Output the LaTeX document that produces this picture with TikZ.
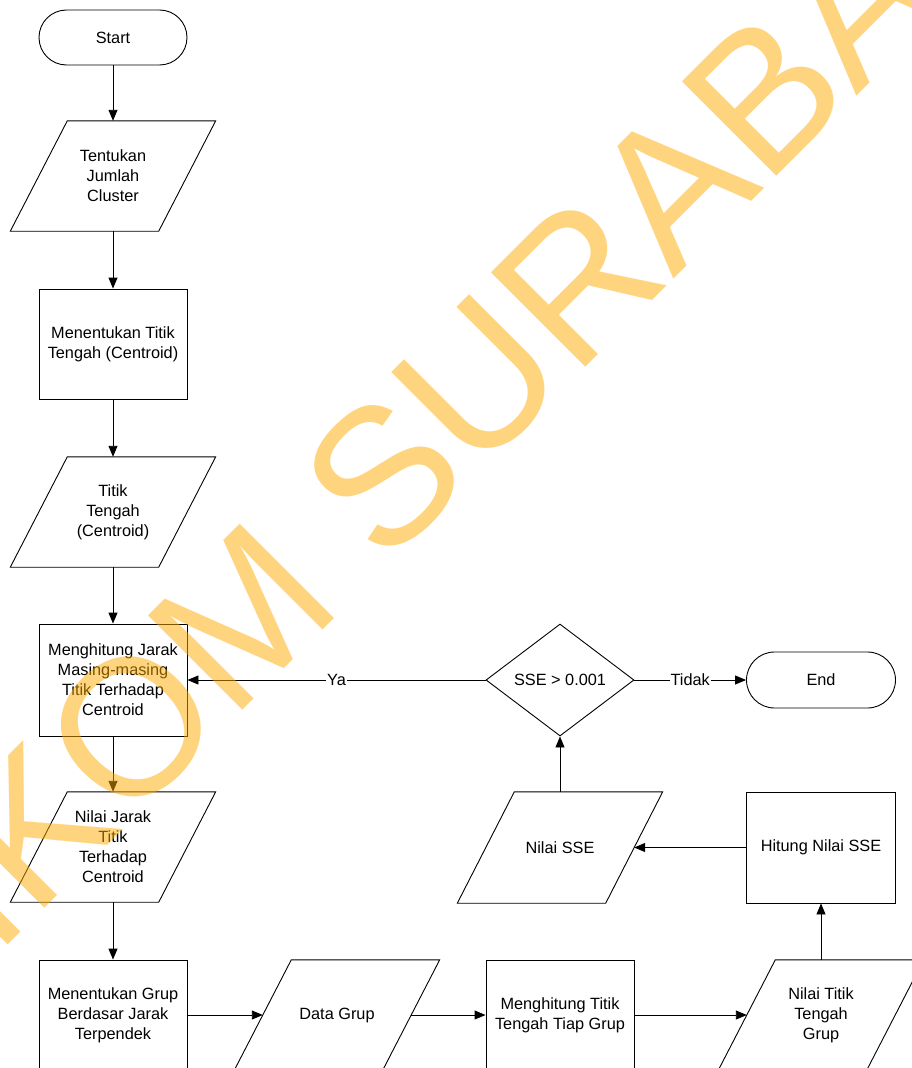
\documentclass[tikz,border=0pt]{standalone}
\usepackage{fontspec}
\setmainfont{Liberation Sans}
\usetikzlibrary{arrows.meta,shapes.geometric,calc}
\definecolor{wmc}{HTML}{FFAA00}
\begin{document}
\begin{tikzpicture}[x=1pt,y=-1pt,
  >={Triangle[length=11pt,width=9pt]},
  basefont/.style={font=\fontsize{16.3}{20}\selectfont, align=center},
  term/.style={basefont, draw, line width=0.9pt, rounded corners=27.5pt, minimum width=148pt, minimum height=55pt, inner sep=0pt},
  proc/.style={basefont, draw, line width=0.9pt, minimum width=148pt, minimum height=110pt, inner sep=0pt},
  io/.style={basefont, minimum width=148pt, minimum height=110pt, inner sep=0pt},
  dec/.style={basefont, draw, line width=0.9pt, diamond, minimum width=148pt, minimum height=112pt, inner sep=0pt},
  flow/.style={draw, line width=0.9pt, ->},
  lbl/.style={basefont, fill=white, inner sep=1pt},
  wm/.style={text=wmc, opacity=0.5, inner sep=0pt, anchor=base west, rotate=45, font=\fontsize{194}{194}\selectfont}
]
\useasboundingbox (0,0) rectangle (912,1068);
\clip (0,0) rectangle (912,1068);
\fill[white] (0,0) rectangle (912,1068);

% nodes
\node[term] (start) at (113,37.5) {Start};
\node[io] (p1) at (113,176) {Tentukan\\Jumlah\\Cluster};
\node[proc] (r1) at (113,344) {Menentukan Titik\\Tengah (Centroid)};
\node[io] (p2) at (113,512) {Titik\\Tengah\\(Centroid)};
\node[proc, minimum height=112pt] (r2) at (113,680) {Menghitung Jarak\\Masing-masing\\Titik Terhadap\\Centroid};
\node[io] (p3) at (113,847) {Nilai Jarak\\Titik\\Terhadap\\Centroid};
\node[proc] (r3) at (113,1015) {Menentukan Grup\\Berdasar Jarak\\Terpendek};
\node[io] (dg) at (337,1015) {Data Grup};
\node[proc] (r4) at (560,1015) {Menghitung Titik\\Tengah Tiap Grup};
\node[io] (nt) at (821,1015) {Nilai Titik\\Tengah\\Grup};
\node[proc, minimum width=149pt, minimum height=111pt] (hs) at (821,847.5) {Hitung Nilai SSE};
\node[io, minimum height=111pt] (ns) at (560,847.5) {Nilai SSE};
\node[dec] (dm) at (560,680) {SSE > 0.001};
\node[term, minimum width=149pt, minimum height=56pt, rounded corners=28pt] (end) at (821,680) {End};

% parallelogram outlines
\foreach \n in {p1,p2,p3,dg,nt,ns}
  \draw[line width=0.9pt] ($(\n.north west)+(28.5,0)$) -- ($(\n.north east)+(28.5,0)$)
    -- ($(\n.south east)+(-28.5,0)$) -- ($(\n.south west)+(-28.5,0)$) -- cycle;

% connectors
\draw[flow] (start.south) -- (p1.north);
\draw[flow] (p1.south) -- (r1.north);
\draw[flow] (r1.south) -- (p2.north);
\draw[flow] (p2.south) -- (r2.north);
\draw[flow] (r2.south) -- (p3.north);
\draw[flow] (p3.south) -- (r3.north);
\draw[flow] (r3.east) -- (dg.west);
\draw[flow] (dg.east) -- (r4.west);
\draw[flow] (r4.east) -- (nt.west);
\draw[flow] (nt.north) -- (hs.south);
\draw[flow] (hs.west) -- (ns.east);
\draw[flow] (ns.north) -- (dm.south);
\draw[flow] (dm.west) -- node[lbl] {Ya} (r2.east);
\draw[flow] (dm.east) -- node[lbl] {Tidak} (end.west);

% watermark
\node[wm] (wmark) at (384,569) {\llap{STIKOM }SURABAYA};
\end{tikzpicture}
\end{document}
